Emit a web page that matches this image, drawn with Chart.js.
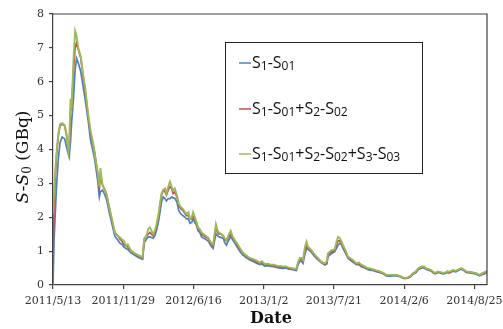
<!DOCTYPE html>
<html>
<head>
<meta charset="utf-8">
<script src="https://cdn.jsdelivr.net/npm/chart.js@4/dist/chart.umd.min.js"></script>
<style>
  html, body { margin: 0; padding: 0; background: #fff; }
  #wrap { width: 503px; height: 329px; position: relative; }
</style>
</head>
<body>
<div id="wrap"><canvas id="c" width="503" height="329"></canvas></div>
<script>
/* ---------- data (days since 2011/5/13, GBq) ---------- */
const days = [
  0, 3, 6, 10, 15, 20, 26, 33, 38, 44,
  46, 50, 53, 58, 63, 67, 72, 79, 86, 92,
  100, 107, 114, 119, 127, 132, 135, 141, 148, 153,
  160, 168, 176, 185, 191, 196, 202, 208, 213, 222,
  230, 243, 255, 260, 266, 271, 276, 285, 290, 295,
  300, 304, 309, 314, 319, 323, 328, 333, 338, 342,
  347, 353, 358, 364, 370, 376, 380, 386, 390, 395,
  399, 404, 409, 413, 418, 423, 430, 435, 442, 450,
  456, 464, 469, 473, 479, 485, 489, 494, 499, 506,
  511, 518, 526, 533, 541, 551, 560, 569, 580, 589,
  595, 603, 612, 620, 629, 637, 646, 655, 663, 671,
  680, 687, 693, 698, 703, 708, 712, 717, 722, 726,
  736, 745, 754, 764, 774, 780, 783, 793, 802, 808,
  812, 817, 821, 826, 834, 840, 848, 854, 864, 871,
  878, 888, 896, 902, 911, 921, 930, 940, 949, 959,
  967, 978, 987, 996, 1001, 1010, 1019, 1025, 1033, 1041,
  1049, 1056, 1063, 1070, 1077, 1084, 1090, 1096, 1104, 1110,
  1118, 1124, 1129, 1139, 1147, 1153, 1163, 1169, 1177, 1186,
  1196, 1205, 1215, 1223, 1229, 1236,
];

const s1 = [
  0, 1.3, 2.0, 2.9, 3.7, 4.2, 4.37, 4.32, 4.1, 3.85,
  3.78, 4.25, 4.8, 5.46, 6.34, 6.69, 6.55, 6.3, 5.85, 5.46,
  4.87, 4.28, 3.95, 3.69, 3.1, 2.6, 2.75, 2.8, 2.65, 2.5,
  2.15, 1.8, 1.45, 1.32, 1.23, 1.2, 1.12, 1.08, 1.05, 0.95,
  0.9, 0.81, 0.76, 1.25, 1.35, 1.42, 1.42, 1.38, 1.45, 1.62,
  1.85, 2.1, 2.45, 2.6, 2.55, 2.48, 2.55, 2.55, 2.6, 2.57,
  2.56, 2.45, 2.2, 2.1, 2.05, 2.0, 1.95, 1.95, 1.82, 1.85,
  1.95, 1.85, 1.75, 1.6, 1.55, 1.42, 1.38, 1.35, 1.3, 1.15,
  1.08, 1.52, 1.45, 1.42, 1.4, 1.38, 1.25, 1.18, 1.3, 1.42,
  1.35, 1.23, 1.1, 0.98, 0.88, 0.8, 0.74, 0.7, 0.64, 0.6,
  0.62, 0.56, 0.57, 0.55, 0.54, 0.52, 0.5, 0.49, 0.5, 0.47,
  0.46, 0.44, 0.43, 0.6, 0.7, 0.7, 0.64, 0.9, 1.08, 1.05,
  0.97, 0.84, 0.75, 0.66, 0.59, 0.62, 0.84, 0.93, 0.98, 1.1,
  1.18, 1.23, 1.2, 1.08, 0.92, 0.79, 0.72, 0.68, 0.6, 0.6,
  0.54, 0.5, 0.46, 0.44, 0.43, 0.39, 0.37, 0.33, 0.27, 0.26,
  0.27, 0.27, 0.25, 0.21, 0.19, 0.2, 0.25, 0.32, 0.36, 0.46,
  0.5, 0.51, 0.46, 0.44, 0.41, 0.35, 0.33, 0.37, 0.35, 0.33,
  0.34, 0.37, 0.35, 0.41, 0.39, 0.42, 0.47, 0.43, 0.37, 0.36,
  0.34, 0.32, 0.27, 0.31, 0.33, 0.38,
];

const s12 = [
  0.6, 2.3, 3.1, 3.8, 4.4, 4.7, 4.75, 4.7, 4.45, 4.0,
  4.0, 5.2, 5.2, 6.3, 7.0, 7.15, 6.95, 6.7, 6.15, 5.7,
  5.0, 4.5, 4.15, 3.9, 3.3, 2.85, 3.2, 2.95, 2.8, 2.65,
  2.3, 1.9, 1.55, 1.45, 1.35, 1.3, 1.2, 1.15, 1.12, 1.0,
  0.95, 0.86, 0.8, 1.35, 1.45, 1.5, 1.55, 1.45, 1.55, 1.75,
  2.0, 2.3, 2.65, 2.8, 2.75, 2.65, 2.8, 2.9, 2.85, 2.7,
  2.75, 2.6, 2.35, 2.25, 2.2, 2.1, 2.05, 2.05, 1.95, 1.95,
  2.05, 1.95, 1.82, 1.68, 1.6, 1.5, 1.45, 1.42, 1.38, 1.22,
  1.15, 1.7, 1.55, 1.5, 1.5, 1.45, 1.35, 1.3, 1.4, 1.5,
  1.42, 1.3, 1.15, 1.05, 0.93, 0.85, 0.78, 0.74, 0.68, 0.64,
  0.66, 0.6, 0.6, 0.58, 0.57, 0.55, 0.53, 0.52, 0.53, 0.5,
  0.49, 0.47, 0.46, 0.65, 0.75, 0.75, 0.7, 1.0, 1.15, 1.1,
  1.0, 0.88, 0.78, 0.68, 0.62, 0.66, 0.9, 0.98, 1.02, 1.2,
  1.3, 1.3, 1.25, 1.13, 0.96, 0.82, 0.75, 0.71, 0.62, 0.63,
  0.57, 0.53, 0.49, 0.47, 0.45, 0.41, 0.39, 0.35, 0.29, 0.28,
  0.29, 0.29, 0.26, 0.22, 0.2, 0.21, 0.26, 0.34, 0.38, 0.48,
  0.52, 0.53, 0.48, 0.46, 0.43, 0.37, 0.35, 0.39, 0.37, 0.35,
  0.36, 0.39, 0.37, 0.43, 0.41, 0.44, 0.49, 0.45, 0.39, 0.38,
  0.36, 0.34, 0.29, 0.33, 0.35, 0.4,
];

const s123 = [
  2.1, 2.8, 3.3, 3.9, 4.45, 4.75, 4.78, 4.72, 4.5, 3.95,
  4.1, 5.5, 5.2, 6.6, 7.5, 7.35, 7.0, 6.75, 6.2, 5.8,
  5.05, 4.55, 4.2, 3.85, 3.35, 2.9, 3.45, 2.95, 2.8, 2.65,
  2.3, 1.95, 1.55, 1.45, 1.4, 1.35, 1.3, 1.15, 1.2, 1.02,
  0.95, 0.88, 0.82, 1.38, 1.45, 1.65, 1.7, 1.5, 1.6, 1.8,
  2.05, 2.35, 2.7, 2.8, 2.85, 2.7, 2.9, 3.05, 2.9, 2.8,
  2.85, 2.65, 2.4, 2.3, 2.25, 2.15, 2.1, 2.15, 1.95, 2.0,
  2.15, 2.0, 1.85, 1.7, 1.65, 1.55, 1.5, 1.45, 1.4, 1.25,
  1.2, 1.8, 1.6, 1.55, 1.5, 1.45, 1.38, 1.32, 1.45, 1.6,
  1.45, 1.32, 1.2, 1.08, 0.95, 0.87, 0.8, 0.77, 0.72, 0.66,
  0.7, 0.62, 0.63, 0.6, 0.6, 0.57, 0.56, 0.55, 0.55, 0.52,
  0.5, 0.48, 0.48, 0.68, 0.8, 0.8, 0.74, 1.1, 1.28, 1.13,
  1.03, 0.9, 0.8, 0.69, 0.64, 0.7, 0.93, 1.03, 1.05, 1.3,
  1.42, 1.38, 1.3, 1.18, 1.0, 0.84, 0.78, 0.74, 0.64, 0.66,
  0.6, 0.55, 0.5, 0.49, 0.47, 0.43, 0.41, 0.36, 0.3, 0.3,
  0.3, 0.3, 0.27, 0.23, 0.21, 0.22, 0.28, 0.35, 0.4, 0.5,
  0.54, 0.55, 0.49, 0.47, 0.44, 0.38, 0.36, 0.4, 0.38, 0.36,
  0.37, 0.41, 0.39, 0.44, 0.42, 0.45, 0.5, 0.46, 0.4, 0.39,
  0.37, 0.35, 0.3, 0.35, 0.38, 0.42,
];

const seriesNames = ["S1-S01", "S1-S01+S2-S02", "S1-S01+S2-S02+S3-S03"];
const seriesColors = ["#4f81bd", "#c0504d", "#9bbb59"];
const tickDays = [0, 200, 400, 600, 800, 1000, 1200];
const tickLabels = ["2011/5/13", "2011/11/29", "2012/6/16", "2013/1/2", "2013/7/21", "2014/2/6", "2014/8/25"];
const xMax = 1236;

/* ---------- helpers ---------- */
const pts = (ys) => days.map((d, i) => ({ x: d, y: ys[i] }));
const AXIS = "#404040";
const SERIF = "'DejaVu Serif', serif";
const SANS = "'Open Sans', 'Noto Sans', sans-serif";

// draws "S1-S01" with the digits as subscripts, returns end x
function drawSubText(ctx, str, x, y, size) {
  const runs = str.match(/\d+|\D+/g);
  runs.forEach((r) => {
    const sub = /\d/.test(r);
    ctx.font = `${sub ? Math.round(size * 0.75) : size}px ${SANS}`;
    ctx.fillText(r, x, sub ? y + size * 0.2 : y);
    x += ctx.measureText(r).width;
  });
  return x;
}

/* ---------- decorations: frame, legend, axis titles ---------- */
const decor = {
  id: "decor",
  afterDraw(chart) {
    const { ctx, chartArea: a } = chart;
    ctx.save();
    ctx.strokeStyle = AXIS;
    ctx.lineWidth = 1.2;
    ctx.beginPath();
    ctx.moveTo(a.left, a.top);
    ctx.lineTo(a.right, a.top);
    ctx.lineTo(a.right, a.bottom);
    ctx.stroke();

    // legend box
    const lx = 225, ly = 42, lw = 197, lh = 131;
    ctx.fillStyle = "#fff";
    ctx.fillRect(lx, ly, lw, lh);
    ctx.strokeStyle = "#222";
    ctx.lineWidth = 1;
    ctx.strokeRect(lx + 0.5, ly + 0.5, lw, lh);
    const rows = [63, 109, 154];
    ctx.textBaseline = "middle";
    ctx.textAlign = "left";
    seriesNames.forEach((n, i) => {
      ctx.strokeStyle = seriesColors[i];
      ctx.lineWidth = 1.5;
      ctx.beginPath();
      ctx.moveTo(239, rows[i]);
      ctx.lineTo(251, rows[i]);
      ctx.stroke();
      ctx.fillStyle = "#111";
      drawSubText(ctx, n, 252, rows[i], 16);
    });

    // x title
    ctx.fillStyle = "#111";
    ctx.textAlign = "center";
    ctx.font = `bold 16px ${SERIF}`;
    ctx.fillText("Date", 271, 319);

    // y title: S-S0 (GBq), rotated
    ctx.translate(24, 157);
    ctx.rotate(-Math.PI / 2);
    const parts = [
      { t: "S-S", f: `italic 17px ${SERIF}`, dy: 0 },
      { t: "0", f: `12px ${SERIF}`, dy: 4 },
      { t: " (GBq)", f: `17px ${SERIF}`, dy: 0 },
    ];
    let w = 0;
    parts.forEach((p) => { ctx.font = p.f; w += ctx.measureText(p.t).width; });
    let x = -w / 2;
    ctx.textAlign = "left";
    parts.forEach((p) => {
      ctx.font = p.f;
      ctx.fillText(p.t, x, p.dy);
      x += ctx.measureText(p.t).width;
    });
    ctx.restore();
  },
};

/* ---------- chart ---------- */
const mkSet = (label, data, color, width, order) => ({
  label, data: pts(data), borderColor: color, backgroundColor: color,
  borderWidth: width, pointRadius: 0, tension: 0, order,
});

new Chart(document.getElementById("c"), {
  type: "line",
  data: {
    datasets: [
      mkSet(seriesNames[0], s1, seriesColors[0], 1.7, 2),
      mkSet(seriesNames[1], s12, seriesColors[1], 1.7, 1),
      mkSet(seriesNames[2], s123, seriesColors[2], 1.9, 0),
    ],
  },
  options: {
    responsive: false, animation: false,
    layout: { padding: { left: 0, top: 14, right: 16, bottom: 0 } },
    plugins: { legend: { display: false }, tooltip: { enabled: false } },
    scales: {
      x: {
        type: "linear", min: 0, max: xMax,
        afterBuildTicks: (s) => { s.ticks = tickDays.map((v) => ({ value: v })); },
        afterFit: (s) => { s.height = 44; s.paddingLeft = 0; s.paddingRight = 0; },
        ticks: {
          autoSkip: false, maxRotation: 0, padding: 6, color: "#333",
          font: { family: SERIF, size: 11 },
          callback: (v, i) => tickLabels[i],
        },
        grid: { drawOnChartArea: false, drawTicks: true, tickLength: 4, color: AXIS, lineWidth: 1.2 },
        border: { display: true, color: AXIS, width: 1.2 },
      },
      y: {
        min: 0, max: 8,
        afterFit: (s) => { s.width = 53; },
        ticks: { stepSize: 1, padding: 5, color: "#333", font: { family: SERIF, size: 11 } },
        grid: { drawOnChartArea: false, drawTicks: true, tickLength: 4, color: AXIS, lineWidth: 1.2 },
        border: { display: true, color: AXIS, width: 1.2 },
      },
    },
  },
  plugins: [decor],
});
</script>
</body>
</html>
